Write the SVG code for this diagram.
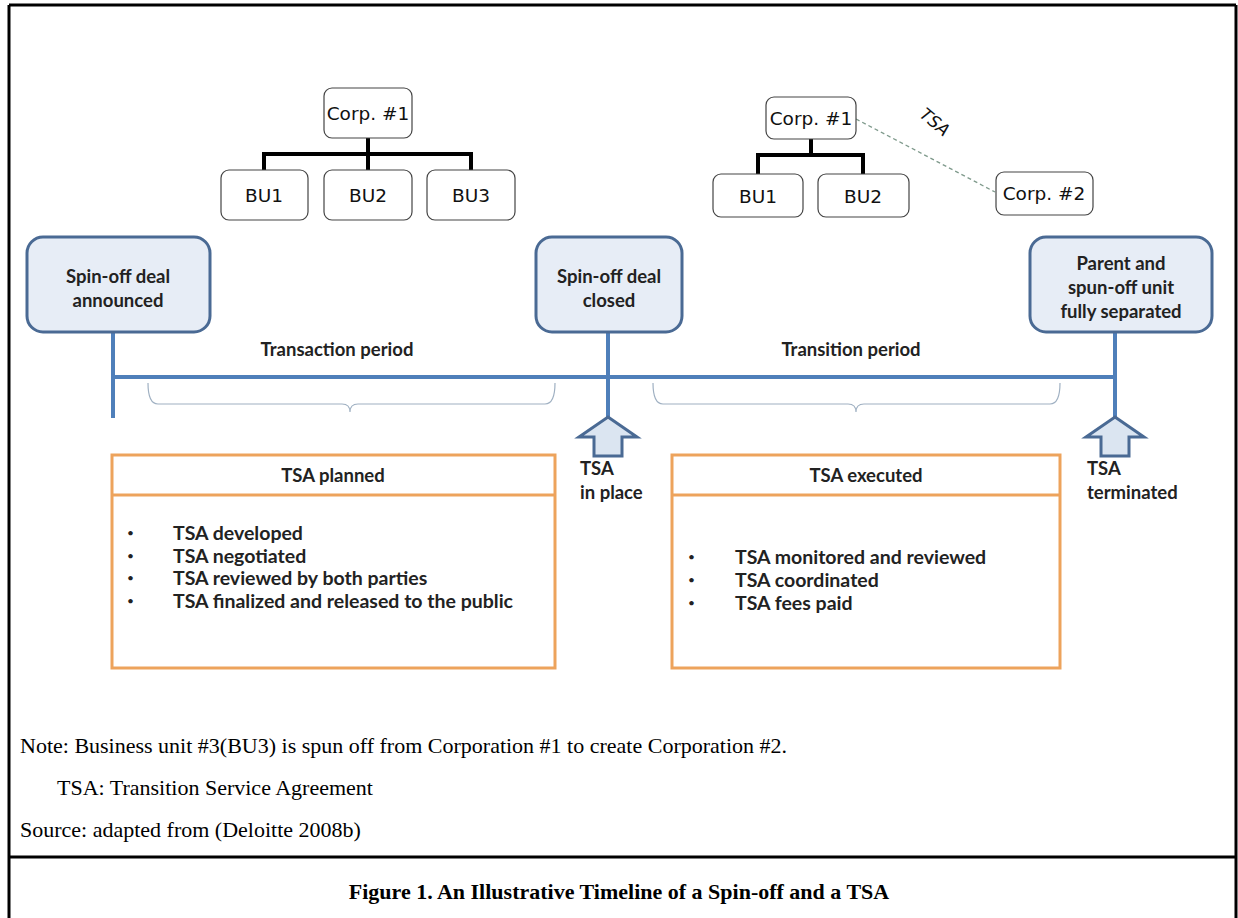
<svg xmlns="http://www.w3.org/2000/svg" width="1238" height="918" viewBox="0 0 1238 918">
<style>
.org{fill:#fff;stroke:#444;stroke-width:1.2}
.orgt{font-family:"DejaVu Sans",Verdana,sans-serif;font-size:18.5px;fill:#111;text-anchor:middle}
.tree{fill:none;stroke:#000;stroke-width:4}
.ev{fill:#e7edf6;stroke:#4a6a94;stroke-width:3}
.evt{font-family:Lato,"Open Sans",sans-serif;font-weight:bold;font-size:18.5px;fill:#222;text-anchor:middle}
.tl{stroke:#4f7fba;stroke-width:4;fill:none}
.brace{fill:none;stroke:#9fb0c2;stroke-width:1.2}
.arr{fill:#dbe5f1;stroke:#4a6a94;stroke-width:3;stroke-linejoin:miter}
.lab{font-family:Lato,"Open Sans",sans-serif;font-weight:bold;font-size:18.5px;fill:#222}
.ob{fill:#fff;stroke:#eda35c;stroke-width:3}
.item{font-family:Lato,"Open Sans",sans-serif;font-weight:bold;font-size:19.5px;fill:#222}
.bul{font-family:Lato,"Open Sans",sans-serif;font-size:12px;fill:#222}
.note{font-family:"Liberation Serif","Times New Roman",serif;font-size:22px;fill:#000}
.border{stroke:#000;stroke-width:3;fill:none}
</style>

<g id="frame">
<line class="border" x1="9" y1="5" x2="1236" y2="5"/>
<line class="border" x1="9" y1="5" x2="9" y2="918"/>
<line class="border" x1="1236" y1="5" x2="1236" y2="918"/>
<line class="border" x1="9" y1="857" x2="1236" y2="857"/>
</g>

<g id="connectors">
<path class="tree" d="M368 138 V154 M264 170 V154 H471 V170 M368 154 V170"/>
<path class="tree" d="M811 139 V155 M758 174 V155 H863 V174"/>
<line x1="856" y1="119" x2="995" y2="192" stroke="#7f9a8c" stroke-width="1.3" stroke-dasharray="4,3"/>
<text x="935" y="128" transform="rotate(40 935 122)" class="orgt" style="font-size:17px;font-style:italic">TSA</text>
<line class="tl" x1="113" y1="377" x2="1117" y2="377"/>
<line class="tl" x1="113" y1="332" x2="113" y2="418"/>
<line class="tl" x1="608" y1="332" x2="608" y2="418"/>
<line class="tl" x1="1115" y1="332" x2="1115" y2="418"/>
<path class="brace" d="M148 383 Q148 404 158 404 H342 Q350 404 350 412 Q350 404 358 404 H545 Q555 404 555 383"/>
<path class="brace" d="M653 383 Q653 404 663 404 H848 Q856 404 856 412 Q856 404 864 404 H1050 Q1060 404 1060 383"/>
</g>

<g id="chart1">
<g id="c1-corp1"><rect class="org" x="324" y="88" width="88" height="50" rx="8"/><text class="orgt" x="368" y="120">Corp. #1</text></g>
<g id="c1-bu1"><rect class="org" x="221" y="170" width="87" height="50" rx="8"/><text class="orgt" x="264" y="202">BU1</text></g>
<g id="c1-bu2"><rect class="org" x="324" y="170" width="88" height="50" rx="8"/><text class="orgt" x="368" y="202">BU2</text></g>
<g id="c1-bu3"><rect class="org" x="427" y="170" width="88" height="50" rx="8"/><text class="orgt" x="471" y="202">BU3</text></g>
</g>

<g id="chart2">
<g id="c2-corp1"><rect class="org" x="766" y="97" width="90" height="42" rx="8"/><text class="orgt" x="811" y="125">Corp. #1</text></g>
<g id="c2-bu1"><rect class="org" x="713" y="174" width="90" height="43" rx="8"/><text class="orgt" x="758" y="203">BU1</text></g>
<g id="c2-bu2"><rect class="org" x="818" y="174" width="91" height="43" rx="8"/><text class="orgt" x="863" y="203">BU2</text></g>
<g id="c2-corp2"><rect class="org" x="996" y="172" width="97" height="43" rx="8"/><text class="orgt" x="1044" y="200">Corp. #2</text></g>
</g>

<g id="ev-announced"><rect class="ev" x="27" y="237" width="183" height="95" rx="16"/>
<text class="evt" x="118" y="283">Spin-off  deal</text><text class="evt" x="118" y="307">announced</text></g>
<g id="ev-closed"><rect class="ev" x="536" y="237" width="146" height="95" rx="16"/>
<text class="evt" x="609" y="283">Spin-off deal</text><text class="evt" x="609" y="307">closed</text></g>
<g id="ev-separated"><rect class="ev" x="1030" y="237" width="182" height="95" rx="16"/>
<text class="evt" x="1121" y="270">Parent and</text><text class="evt" x="1121" y="294">spun-off unit</text><text class="evt" x="1121" y="318">fully separated</text></g>

<g id="periods">
<text class="evt" x="337" y="356">Transaction period</text>
<text class="evt" x="851" y="356">Transition period</text>
</g>

<g id="arrow-inplace">
<path class="arr" d="M608 417 L637 437 L622 437 L622 456 L594 456 L594 437 L579 437 Z"/>
<text class="lab" x="580" y="475">TSA</text><text class="lab" x="580" y="499">in place</text>
</g>
<g id="arrow-terminated">
<path class="arr" d="M1115 417 L1144 437 L1129 437 L1129 456 L1101 456 L1101 437 L1086 437 Z"/>
<text class="lab" x="1087" y="475">TSA</text><text class="lab" x="1087" y="499">terminated</text>
</g>

<g id="tsa-planned">
<rect class="ob" x="112" y="455" width="443" height="213"/>
<line x1="112" y1="495" x2="555" y2="495" stroke="#eda35c" stroke-width="3"/>
<text class="evt" x="333" y="482">TSA planned</text>
<text class="bul" x="127" y="537">•</text><text class="item" x="173" y="540">TSA developed</text>
<text class="bul" x="127" y="560">•</text><text class="item" x="173" y="563">TSA negotiated</text>
<text class="bul" x="127" y="582">•</text><text class="item" x="173" y="585">TSA reviewed by both parties</text>
<text class="bul" x="127" y="605">•</text><text class="item" x="173" y="608">TSA finalized and released to the public</text>
</g>

<g id="tsa-executed">
<rect class="ob" x="672" y="455" width="388" height="213"/>
<line x1="672" y1="495" x2="1060" y2="495" stroke="#eda35c" stroke-width="3"/>
<text class="evt" x="866" y="482">TSA executed</text>
<text class="bul" x="688" y="561">•</text><text class="item" x="735" y="564">TSA monitored and reviewed</text>
<text class="bul" x="688" y="584">•</text><text class="item" x="735" y="587">TSA coordinated</text>
<text class="bul" x="688" y="607">•</text><text class="item" x="735" y="610">TSA fees paid</text>
</g>

<g id="notes">
<text class="note" x="20" y="753">Note: Business unit #3(BU3) is spun off from Corporation #1 to create Corporation #2.</text>
<text class="note" x="57" y="795">TSA: Transition Service Agreement</text>
<text class="note" x="20" y="837">Source: adapted from (Deloitte 2008b)</text>
<text class="note" x="619" y="899" text-anchor="middle" font-weight="bold">Figure 1. An Illustrative Timeline of a Spin-off and a TSA</text>
</g>
</svg>
